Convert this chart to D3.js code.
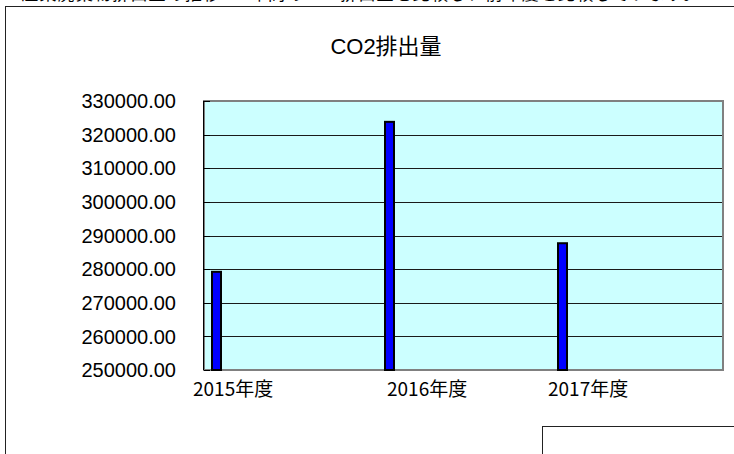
<!DOCTYPE html>
<html lang="ja">
<head>
    <meta charset="UTF-8">
    <title>CO2排出量</title>
    <style>
        body { margin: 0; background: #fff; }
        svg { display: block; }
        .tick-label { font-family: "Liberation Sans", Arial, sans-serif; font-size: 20px; fill: #000; }
        .cat-label { font-family: "Noto Sans CJK JP", sans-serif; font-size: 19px; fill: #000; }
        .title { font-family: "Liberation Sans", "Noto Sans CJK JP", sans-serif; font-size: 22px; fill: #000; }
        .note { font-family: "Noto Sans CJK JP", sans-serif; font-size: 17px; fill: #000; }
    </style>
</head>
<body>
    <svg id="chart" width="734" height="454"></svg>

    <script src="https://d3js.org/d3.v7.min.js"></script>
    <script>
        // data
        const categories = ["2015年度", "2016年度", "2017年度"];
        const emissions = [279200, 323800, 287700];
        const yTicks = [250000, 260000, 270000, 280000, 290000, 300000, 310000, 320000, 330000];
        const labelShift = [-11, 10, -2]; // excel puts the category labels a bit unevenly

        const svg = d3.select("#chart");
        const plot = { left: 204, right: 723, top: 101, bottom: 370 };

        // cut-off line of text above the chart (only its lower edge shows)
        svg.append("text")
            .attr("class", "note")
            .attr("x", 0)
            .attr("y", 0)
            .attr("textLength", 700)
            .attr("lengthAdjust", "spacing")
            .text("3. 産業廃棄物排出量の推移：3年間のCO2排出量を比較し、前年度と比較しています。");

        // chart frame (runs off the picture on the right / bottom)
        svg.append("rect")
            .attr("x", 5.5).attr("y", 6.5)
            .attr("width", 760).attr("height", 480)
            .attr("fill", "#fff")
            .attr("stroke", "#222");

        svg.append("text")
            .attr("class", "title")
            .attr("x", 386)
            .attr("y", 54)
            .attr("text-anchor", "middle")
            .text("CO2排出量");

        const x = d3.scaleBand()
            .domain(categories)
            .range([plot.left, plot.right])
            .padding(0);

        const y = d3.scaleLinear()
            .domain([250000, 330000])
            .range([plot.bottom, plot.top]);

        // plot background
        svg.append("rect")
            .attr("x", plot.left).attr("y", plot.top)
            .attr("width", plot.right - plot.left)
            .attr("height", plot.bottom - plot.top)
            .attr("fill", "#ccffff");

        // gridlines
        svg.append("g")
            .selectAll("line")
            .data(yTicks.slice(1, -1))
            .join("line")
            .attr("x1", plot.left).attr("x2", plot.right)
            .attr("y1", d => Math.round(y(d)) + 0.5)
            .attr("y2", d => Math.round(y(d)) + 0.5)
            .attr("stroke", "#1a1a1a");

        // plot border
        svg.append("rect")
            .attr("x", plot.left).attr("y", plot.top)
            .attr("width", plot.right - plot.left)
            .attr("height", plot.bottom - plot.top)
            .attr("fill", "none")
            .attr("stroke", "#808080")
            .attr("stroke-width", 2);

        // y axis line + inner ticks
        svg.append("line")
            .attr("x1", plot.left - 0.5).attr("x2", plot.left - 0.5)
            .attr("y1", plot.top).attr("y2", plot.bottom)
            .attr("stroke", "#000");
        svg.append("g")
            .selectAll("line")
            .data(yTicks)
            .join("line")
            .attr("x1", plot.left).attr("x2", plot.left + 6)
            .attr("y1", d => Math.round(y(d)) + 0.5)
            .attr("y2", d => Math.round(y(d)) + 0.5)
            .attr("stroke", "#000");

        // bars
        svg.append("g")
            .selectAll("rect")
            .data(emissions)
            .join("rect")
            .attr("x", (d, i) => x(categories[i]) + 8)
            .attr("y", d => y(d))
            .attr("width", 9)
            .attr("height", d => y(250000) - y(d))
            .attr("fill", "#0000ff")
            .attr("stroke", "#000")
            .attr("stroke-width", 2);

        // y tick labels
        svg.append("g")
            .selectAll("text")
            .data(yTicks)
            .join("text")
            .attr("class", "tick-label")
            .attr("x", 176)
            .attr("y", d => y(d))
            .attr("dy", "0.36em")
            .attr("text-anchor", "end")
            .text(d => d3.format(".2f")(d));

        // category labels
        svg.append("g")
            .selectAll("text")
            .data(categories)
            .join("text")
            .attr("class", "cat-label")
            .attr("x", (d, i) => x(d) + labelShift[i])
            .attr("y", 396)
            .text(d => d);

        // legend box, mostly outside the picture
        svg.append("rect")
            .attr("x", 542.5).attr("y", 426.5)
            .attr("width", 220).attr("height", 60)
            .attr("fill", "#fff")
            .attr("stroke", "#222");
    </script>
</body>
</html>
